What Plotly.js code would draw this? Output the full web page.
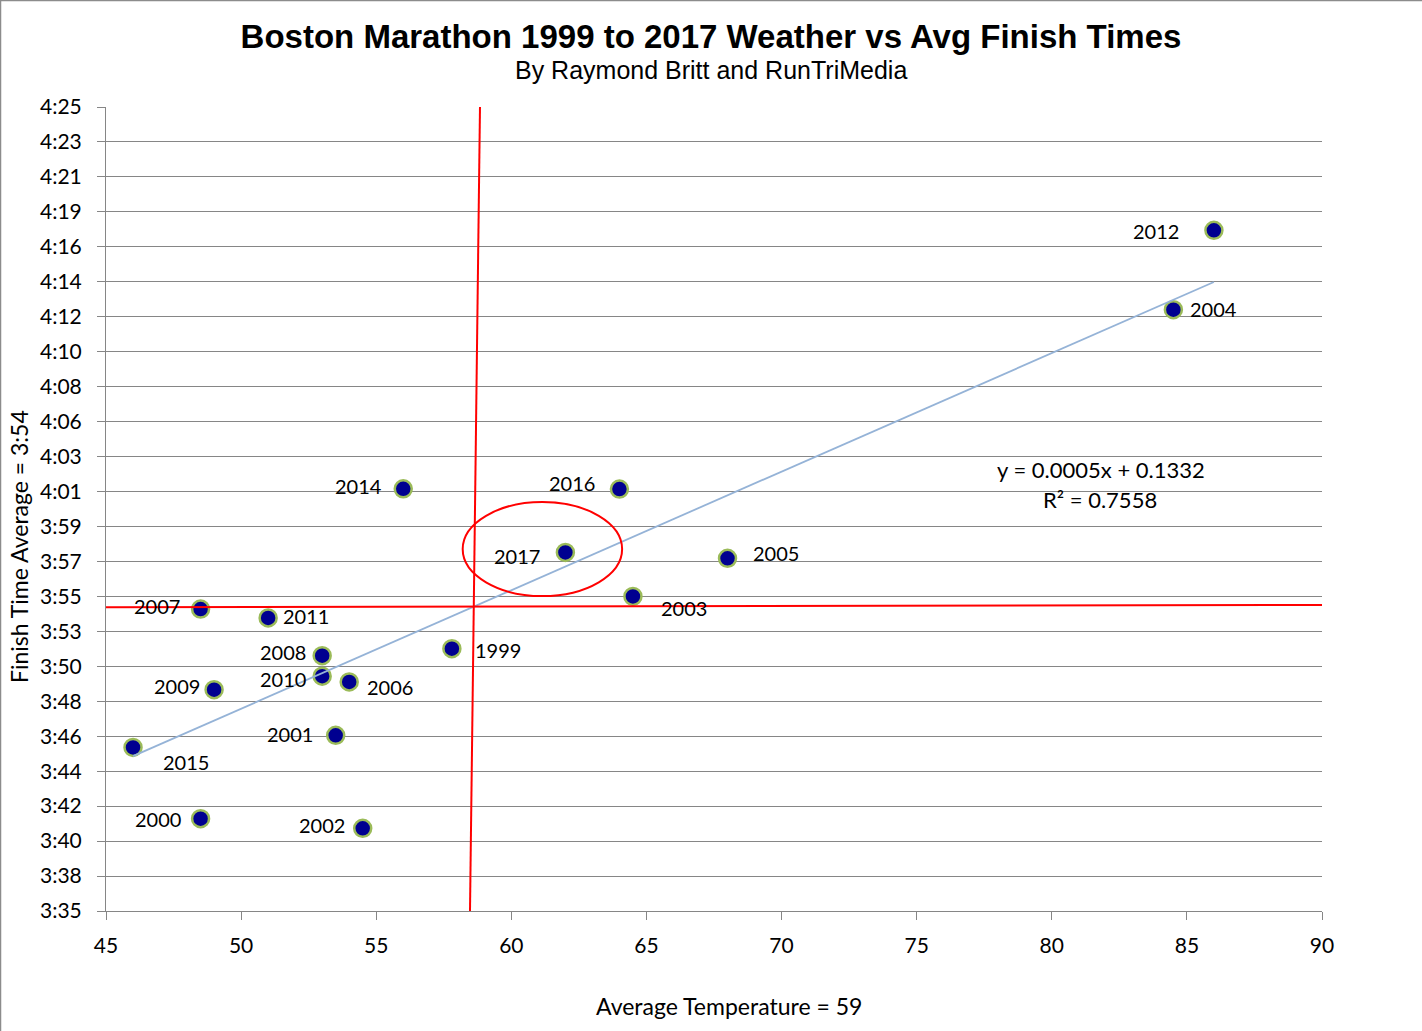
<!DOCTYPE html>
<html>
<head>
<meta charset="utf-8">
<script src="https://cdn.plot.ly/plotly-3.0.1.min.js"></script>
<style>
  body { margin: 0; background: #fff; }
  #chart { width: 1422px; height: 1031px; }
</style>
</head>
<body>
<div id="chart"></div>
<script>
// Boston Marathon: race-day average temperature (F) vs average finish time
var years      = [1999, 2000, 2001, 2002, 2003, 2004, 2005, 2006, 2007,
                  2008, 2009, 2010, 2011, 2012, 2014, 2015, 2016, 2017];
var avgTempF   = [57.8, 48.5, 53.5, 54.5, 64.5, 84.5, 68, 54, 48.5,
                  53, 49, 53, 51, 86, 56, 46, 64, 62];
var avgFinish  = ['3:52:04', '3:41:34', '3:46:43', '3:40:58', '3:55:18', '4:13:01',
                  '3:57:39', '3:50:01', '3:54:31', '3:51:38', '3:49:32', '3:50:22',
                  '3:53:58', '4:17:55', '4:01:57', '3:45:58', '4:01:56', '3:58:01'];

var yTickLabels = ['3:35', '3:38', '3:40', '3:42', '3:44', '3:46', '3:48', '3:50',
                   '3:53', '3:55', '3:57', '3:59', '4:01', '4:03', '4:06', '4:08',
                   '4:10', '4:12', '4:14', '4:16', '4:19', '4:21', '4:23', '4:25'];
var trendEquation = 'y = 0.0005x + 0.1332';
var trendR2       = 'R\u00b2 = 0.7558';

// hand drawn reference marks (slightly tilted in the original)
var avgTempLineX    = [58.47, 58.84];          // bottom, top
var avgFinishLineY  = ['3:54:38', '3:54:46'];  // left, right
var circleX         = [58.2, 64.1];            // ring around 2017
var circleY         = ['3:55:19', '4:01:08'];

// Excel axis: min 0.1499 day, major unit 0.0015 day (in minutes)
var yAxisMin = 215.86;
var yStep = 2.16;

// label placement: [anchor, xshift, yshift]
var labelPos = {
    1999: ['left', 22, -1],  2000: ['right', -19, 0],  2001: ['right', -22, 1],
    2002: ['right', -17, 3], 2003: ['left', 27, -12],  2004: ['left', 16, 1],
    2005: ['left', 24, 5],   2006: ['left', 17, -5],   2007: ['right', -20, 3],
    2008: ['right', -15, 4], 2009: ['right', -13, 4],  2010: ['right', -15, -3],
    2011: ['left', 14, 2],   2012: ['right', -34, -1], 2014: ['right', -20, 3],
    2015: ['left', 29, -15], 2016: ['right', -23, 6],  2017: ['right', -24, -4]
};

function toMin(s) {
    var p = s.split(':');
    return (+p[0]) * 60 + (+p[1]) + (+(p[2] || 0)) / 60;
}

var finishMin = avgFinish.map(toMin);

// least squares trend line
var n = avgTempF.length, sx = 0, sy = 0;
for (var i = 0; i < n; i++) { sx += avgTempF[i]; sy += finishMin[i]; }
var mx = sx / n, my = sy / n, sxy = 0, sxx = 0;
for (var i = 0; i < n; i++) {
    sxy += (avgTempF[i] - mx) * (finishMin[i] - my);
    sxx += (avgTempF[i] - mx) * (avgTempF[i] - mx);
}
var slope = sxy / sxx, icpt = my - slope * mx;
var tx0 = Math.min.apply(null, avgTempF), tx1 = Math.max.apply(null, avgTempF);

var yTickVals = yTickLabels.map(function (t, k) { return yAxisMin + k * yStep; });
var yMax = yTickVals[yTickVals.length - 1];

var pts = {
    x: avgTempF, y: finishMin,
    mode: 'markers', type: 'scatter',
    marker: { size: 17, color: '#000090', line: { color: '#9bbb59', width: 2.5 } },
    hoverinfo: 'x+y'
};
var trend = {
    x: [tx0, tx1], y: [icpt + slope * tx0, icpt + slope * tx1],
    mode: 'lines', type: 'scatter',
    line: { color: '#95b3d7', width: 1.8 },
    hoverinfo: 'skip'
};

// plot area in pixels, for placing free text
var L = 106, T = 107, W = 1216, H = 804;
function px(x) { return (x - L) / W; }
function py(y) { return (T + H - y) / H; }

var txtFont = { family: 'Lato, sans-serif', size: 20, color: '#000' };

var annotations = years.map(function (yr, k) {
    var p = labelPos[yr];
    return {
        x: avgTempF[k], y: finishMin[k], xref: 'x', yref: 'y',
        text: String(yr), showarrow: false,
        xanchor: p[0], yanchor: 'middle', xshift: p[1], yshift: p[2],
        borderpad: 0, font: txtFont
    };
});

annotations.push(
    { xref: 'paper', yref: 'paper', x: px(711), y: py(70), text: 'By Raymond Britt and RunTriMedia',
      showarrow: false, xanchor: 'center', yanchor: 'middle',
      font: { family: 'Liberation Sans, Arial, sans-serif', size: 25, color: '#000' } },
    { xref: 'paper', yref: 'paper', x: px(729), y: py(1006), text: 'Average Temperature = 59',
      showarrow: false, xanchor: 'center', yanchor: 'middle',
      font: { family: 'Lato, sans-serif', size: 23, color: '#000' } },
    { xref: 'paper', yref: 'paper', x: px(19), y: py(547), text: 'Finish Time Average = 3:54',
      showarrow: false, xanchor: 'center', yanchor: 'middle', textangle: -90,
      font: { family: 'Lato, sans-serif', size: 23, color: '#000' } },
    { xref: 'paper', yref: 'paper', x: px(1101), y: py(469), text: trendEquation,
      showarrow: false, xanchor: 'center', yanchor: 'middle',
      font: { family: 'Lato, sans-serif', size: 22, color: '#000' } },
    { xref: 'paper', yref: 'paper', x: px(1100), y: py(499), text: trendR2,
      showarrow: false, xanchor: 'center', yanchor: 'middle',
      font: { family: 'Lato, sans-serif', size: 22, color: '#000' } }
);

var red = { color: '#ff0000', width: 2 };
var shapes = [
    { type: 'line', xref: 'x', yref: 'y', x0: avgTempLineX[0], y0: yAxisMin,
      x1: avgTempLineX[1], y1: yMax, line: red },
    { type: 'line', xref: 'x', yref: 'y', x0: 45, y0: toMin(avgFinishLineY[0]),
      x1: 90, y1: toMin(avgFinishLineY[1]), line: red },
    { type: 'circle', xref: 'x', yref: 'y', x0: circleX[0], x1: circleX[1],
      y0: toMin(circleY[0]), y1: toMin(circleY[1]), line: red },
    // chart border
    { type: 'line', xref: 'paper', yref: 'paper', x0: px(0), x1: px(1422), y0: py(0.5), y1: py(0.5),
      line: { color: '#8c8c8c', width: 1.5 } },
    { type: 'line', xref: 'paper', yref: 'paper', x0: px(0.5), x1: px(0.5), y0: py(0), y1: py(1031),
      line: { color: '#8c8c8c', width: 1.5 } }
];

var layout = {
    width: 1422, height: 1031,
    margin: { l: L, r: 1422 - L - W, t: T, b: 1031 - T - H },
    paper_bgcolor: '#fff', plot_bgcolor: '#fff',
    showlegend: false,
    title: {
        text: '<b>Boston Marathon 1999 to 2017 Weather vs Avg Finish Times</b>',
        x: 0.5, xanchor: 'center', y: 1 - 36 / 1031, yanchor: 'middle',
        font: { family: 'Liberation Sans, Arial, sans-serif', size: 33, color: '#000' }
    },
    xaxis: {
        range: [45, 90], dtick: 5, tick0: 45,
        showgrid: false, zeroline: false,
        showline: true, linecolor: '#868686', linewidth: 1,
        ticks: 'outside', ticklen: 8, tickcolor: '#868686',
        ticklabelstandoff: 8,
        tickfont: { family: 'Lato, sans-serif', size: 21, color: '#000' }
    },
    yaxis: {
        range: [yAxisMin, yMax],
        tickmode: 'array', tickvals: yTickVals, ticktext: yTickLabels,
        showgrid: true, gridcolor: '#868686', gridwidth: 1, zeroline: false,
        showline: true, linecolor: '#868686', linewidth: 1,
        ticks: 'outside', ticklen: 8, tickcolor: '#868686',
        ticklabelstandoff: 11,
        tickfont: { family: 'Lato, sans-serif', size: 21, color: '#000' }
    },
    annotations: annotations,
    shapes: shapes
};

Plotly.newPlot('chart', [pts, trend], layout, { displayModeBar: false, staticPlot: true });
</script>
</body>
</html>
